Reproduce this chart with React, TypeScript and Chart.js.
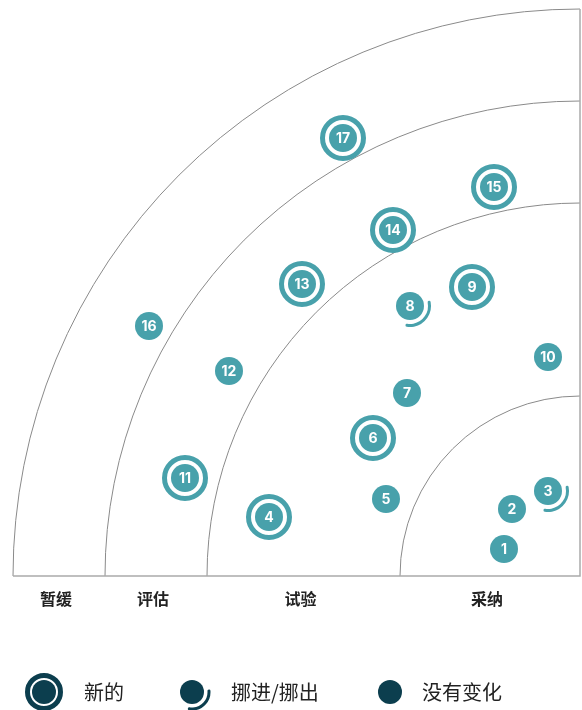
import React, { useEffect, useRef } from "react";
import { Chart, registerables } from "chart.js";

Chart.register(...registerables);

// Rings (outer radius in radar units) and names
const ringNames = ["采纳", "试验", "评估", "暂缓"];
const ringRadii = [180, 373, 475, 567];

// Blips
const blipIds = [1, 2, 3, 4, 5, 6, 7, 8, 9, 10, 11, 12, 13, 14, 15, 16, 17];
const blipX = [-76, -68, -32, -311, -194, -207, -173, -170, -108, -32, -395, -351, -278, -187, -86, -431, -237];
const blipY = [27, 67, 85, 59, 77, 138, 183, 270, 289, 219, 98, 205, 292, 346, 389, 250, 438];
const blipStatus = ["none", "none", "moved", "new", "none", "new", "none", "moved", "new", "none", "new", "none", "new", "new", "new", "none", "new"];

const legendLabels = ["新的", "挪进/挪出", "没有变化"];

const TEAL = "#48a1ab";
const DARK = "#0c3e4e";
const LINE = "#8a8a8a";

export default function App() {
  const ref = useRef<HTMLCanvasElement>(null);
  useEffect(() => {
    document.body.style.margin = "0";
    const canvas = ref.current!;
    const radarPlugin = {
      id: "radar",
      beforeDatasetsDraw(chart: any) {
        const { ctx, scales } = chart;
        const xs = scales.x, ys = scales.y;
        const cx = xs.getPixelForValue(0);
        const cy = ys.getPixelForValue(0);
        ctx.save();
        ctx.strokeStyle = LINE;
        ctx.lineWidth = 1;
        ringRadii.forEach((r) => {
          const pr = cx - xs.getPixelForValue(-r);
          ctx.beginPath();
          ctx.arc(cx, cy, pr, Math.PI, Math.PI * 1.5);
          ctx.stroke();
        });
        const outer = cx - xs.getPixelForValue(-ringRadii[ringRadii.length - 1]);
        ctx.beginPath();
        ctx.moveTo(cx - outer, cy);
        ctx.lineTo(cx, cy);
        ctx.lineTo(cx, cy - outer);
        ctx.strokeStyle = "#aaaaaa";
        ctx.lineWidth = 1.5;
        ctx.stroke();
        // ring labels
        ctx.fillStyle = "#222";
        ctx.font = "bold 16px 'Noto Sans CJK SC'";
        ctx.textAlign = "center";
        ctx.textBaseline = "middle";
        let prev = 0;
        ringRadii.forEach((r, i) => {
          const mid = (prev + r) / 2;
          prev = r;
          ctx.fillText(ringNames[i], xs.getPixelForValue(-mid) - 3, cy + 23);
        });
        ctx.restore();
      },
      afterDatasetsDraw(chart: any) {
        const { ctx } = chart;
        const meta = chart.getDatasetMeta(0);
        ctx.save();
        meta.data.forEach((el: any, i: number) => {
          const x = el.x, y = el.y;
          const st = blipStatus[i];
          ctx.fillStyle = TEAL;
          ctx.beginPath();
          ctx.arc(x, y, 14, 0, Math.PI * 2);
          ctx.fill();
          if (st === "new") {
            ctx.strokeStyle = TEAL;
            ctx.lineWidth = 5;
            ctx.beginPath();
            ctx.arc(x, y, 20.5, 0, Math.PI * 2);
            ctx.stroke();
          } else if (st === "moved") {
            ctx.strokeStyle = TEAL;
            ctx.lineWidth = 3;
            ctx.lineCap = "round";
            ctx.beginPath();
            ctx.arc(x, y, 19.5, -Math.PI * 0.06, Math.PI * 0.55);
            ctx.stroke();
          }
          ctx.fillStyle = "#fff";
          ctx.font = "bold 14px Inter";
          ctx.textAlign = "center";
          ctx.textBaseline = "middle";
          ctx.fillText(String(blipIds[i]), x, y + 0.5);
        });
        // legend
        const ly = 692;
        const items = [
          { ix: 44, tx: 84 },
          { ix: 192, tx: 231 },
          { ix: 390, tx: 422 },
        ];
        items.forEach((it, k) => {
          ctx.fillStyle = DARK;
          ctx.strokeStyle = DARK;
          ctx.beginPath();
          ctx.arc(it.ix, ly, 12, 0, Math.PI * 2);
          ctx.fill();
          if (k === 0) {
            ctx.lineWidth = 5;
            ctx.beginPath();
            ctx.arc(it.ix, ly, 16.5, 0, Math.PI * 2);
            ctx.stroke();
          } else if (k === 1) {
            ctx.lineWidth = 3;
            ctx.lineCap = "round";
            ctx.beginPath();
            ctx.arc(it.ix, ly, 17, -Math.PI * 0.02, Math.PI * 0.55);
            ctx.stroke();
          }
          ctx.fillStyle = "#222";
          ctx.font = "20px 'Noto Sans CJK SC'";
          ctx.textAlign = "left";
          ctx.textBaseline = "middle";
          ctx.fillText(legendLabels[k], it.tx, ly);
        });
        ctx.restore();
      },
    };
    const chart = new Chart(canvas, {
      type: "scatter",
      data: {
        datasets: [
          {
            data: blipX.map((x, i) => ({ x, y: blipY[i] })),
            pointRadius: 0,
            pointHoverRadius: 0,
          },
        ],
      },
      options: {
        animation: false,
        responsive: false,
        maintainAspectRatio: false,
        events: [],
        layout: { padding: { left: 14, right: 2, top: 9, bottom: 134 } },
        plugins: { legend: { display: false }, tooltip: { enabled: false } },
        scales: {
          x: { type: "linear", min: -566, max: 0, display: false },
          y: { type: "linear", min: 0, max: 567, display: false },
        },
      },
      plugins: [radarPlugin],
    });
    return () => chart.destroy();
  }, []);
  return (
    <div style={{ width: 582, height: 710 }}>
      <canvas ref={ref} width={582} height={710} style={{ display: "block", width: 582, height: 710 }} />
    </div>
  );
}
